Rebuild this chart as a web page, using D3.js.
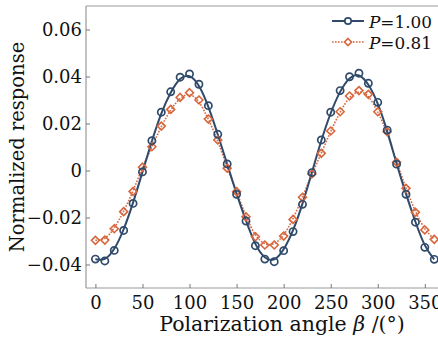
<!DOCTYPE html>
<html>
<head>
    <meta charset="utf-8">
    <style>
        body {
            margin: 0;
            background: #fff;
        }

        svg {
            display: block;
        }

        text {
            font-family: "DejaVu Serif", serif;
        }

        .tick text {
            font-size: 18px;
            fill: #111;
        }

        .tick line {
            stroke: #777;
        }

        .domain {
            display: none;
        }
    </style>
</head>
<body>
    <svg width="438" height="338"></svg>

<script src="https://d3js.org/d3.v7.min.js"></script>
<script>
    // polarization angle (deg) and normalized response
    let angles = [0, 10, 20, 30, 40, 50, 60, 70, 80, 90, 100, 110, 120, 130, 140, 150, 160, 170, 180,
        190, 200, 210, 220, 230, 240, 250, 260, 270, 280, 290, 300, 310, 320, 330, 340, 350, 360]

    let respP100 = [-0.0377, -0.0385, -0.0340, -0.0255, -0.0140, -0.0006, 0.0127, 0.0248, 0.0335, 0.0397,
        0.0411, 0.0367, 0.0276, 0.0154, 0.0028, -0.0101, -0.0215, -0.0320, -0.0377,
        -0.0388, -0.0341, -0.0260, -0.0144, -0.0009, 0.0130, 0.0248, 0.0340, 0.0399,
        0.0414, 0.0371, 0.0290, 0.0172, 0.0027, -0.0101, -0.0220, -0.0327, -0.0378]

    let respP081 = [-0.0297, -0.0296, -0.0248, -0.0175, -0.0089, 0.0014, 0.0101, 0.0189, 0.0260, 0.0311,
        0.0331, 0.0300, 0.0219, 0.0130, 0.0010, -0.0090, -0.0197, -0.0282, -0.0317,
        -0.0317, -0.0279, -0.0208, -0.0114, -0.0015, 0.0073, 0.0168, 0.0250, 0.0317,
        0.0340, 0.0324, 0.0250, 0.0165, 0.0035, -0.0076, -0.0178, -0.0253, -0.0293]

    let seriesNames = ["1.00", "0.81"]
    let seriesColors = ["#2f4a6a", "#d8663c"]

    let xTicks = [0, 50, 100, 150, 200, 250, 300, 350]
    let yTicks = [-0.04, -0.02, 0, 0.02, 0.04, 0.06]

    let svg = d3.select("svg")

    let margin = { top: 6, right: 0, bottom: 50, left: 86 }
    let width = 438
    let height = 338

    let x = d3.scaleLinear()
        .domain([-10, 364])
        .range([margin.left, width - margin.right])

    let y = d3.scaleLinear()
        .domain([-0.05, 0.07])
        .range([height - margin.bottom, margin.top])

    // frame: left, top, bottom (right side falls outside the picture)
    let frame = svg.append("g")
        .attr("stroke", "#999")
        .attr("stroke-width", 1.2)
    frame.append("line")
        .attr("x1", x.range()[0]).attr("x2", x.range()[0])
        .attr("y1", y.range()[0]).attr("y2", y.range()[1])
    frame.append("line")
        .attr("x1", x.range()[0]).attr("x2", x.range()[1])
        .attr("y1", y.range()[1]).attr("y2", y.range()[1])
    frame.append("line")
        .attr("x1", x.range()[0]).attr("x2", x.range()[1])
        .attr("y1", y.range()[0]).attr("y2", y.range()[0])

    let xAxis = svg.append("g")
        .attr("class", "x axis")
        .attr("transform", `translate(0,${y.range()[0]})`)
        .call(d3.axisBottom(x)
            .tickValues(xTicks)
            .tickSize(-4)
            .tickPadding(8)
            .tickFormat(d3.format("d")))
        .attr("font-family", null)

    let yAxis = svg.append("g")
        .attr("class", "y axis")
        .attr("transform", `translate(${x.range()[0]},0)`)
        .call(d3.axisLeft(y)
            .tickValues(yTicks)
            .tickSize(-4)
            .tickPadding(4)
            .tickFormat(d => d === 0 ? "0" : d3.format(".2f")(d).replace("-", "\u2212")))
        .attr("font-family", null)

    let plotArea = svg.append("g")

    let line = d3.line()
        .x(d => x(d[0]))
        .y(d => y(d[1]))
        .curve(d3.curveBasis)

    let d100 = angles.map((a, i) => [a, respP100[i]])
    let d081 = angles.map((a, i) => [a, respP081[i]])

    // P = 0.81 : dotted line, diamonds
    plotArea.append("path")
        .datum(d081)
        .attr("fill", "none")
        .attr("stroke", seriesColors[1])
        .attr("stroke-width", 1.6)
        .attr("stroke-dasharray", "1.6,1.4")
        .attr("d", line)

    // P = 1.00 : solid line, circles
    plotArea.append("path")
        .datum(d100)
        .attr("fill", "none")
        .attr("stroke", seriesColors[0])
        .attr("stroke-width", 2)
        .attr("d", line)

    let diamond = d3.symbol().type(d3.symbolDiamond2).size(40)

    plotArea.append("g")
        .selectAll("path")
        .data(d081)
        .join("path")
        .attr("transform", d => `translate(${x(d[0])},${y(d[1])})`)
        .attr("d", diamond)
        .attr("fill", "none")
        .attr("stroke", seriesColors[1])
        .attr("stroke-width", 1.6)

    plotArea.append("g")
        .selectAll("circle")
        .data(d100)
        .join("circle")
        .attr("cx", d => x(d[0]))
        .attr("cy", d => y(d[1]))
        .attr("r", 3.6)
        .attr("fill", "none")
        .attr("stroke", seriesColors[0])
        .attr("stroke-width", 1.7)

    // legend
    let legend = svg.append("g")
    seriesNames.forEach((name, i) => {
        let ly = 21 + i * 21
        legend.append("line")
            .attr("x1", 332).attr("x2", 364)
            .attr("y1", ly).attr("y2", ly)
            .attr("stroke", seriesColors[i])
            .attr("stroke-width", i === 0 ? 2 : 1.6)
            .attr("stroke-dasharray", i === 0 ? null : "1.6,1.4")
        if (i === 0) {
            legend.append("circle")
                .attr("cx", 348).attr("cy", ly).attr("r", 3.2)
                .attr("fill", "#fff")
                .attr("stroke", seriesColors[i])
                .attr("stroke-width", 1.7)
        } else {
            legend.append("path")
                .attr("transform", `translate(348,${ly})`)
                .attr("d", d3.symbol().type(d3.symbolDiamond2).size(32))
                .attr("fill", "#fff")
                .attr("stroke", seriesColors[i])
                .attr("stroke-width", 1.6)
        }
        let t = legend.append("text")
            .attr("x", 369)
            .attr("y", ly + 7)
            .style("font-size", "17px")
            .attr("textLength", 63)
            .attr("lengthAdjust", "spacingAndGlyphs")
            .style("fill", "#111")
        t.append("tspan").style("font-style", "italic").text("P")
        t.append("tspan").text("=" + name)
    })

    // axis labels
    let xl = svg.append("text")
        .attr("x", 282)
        .attr("y", 331)
        .attr("text-anchor", "middle")
        .style("font-size", "20.5px")
        .style("fill", "#111")
    xl.append("tspan").text("Polarization angle ")
    xl.append("tspan").style("font-style", "italic").text("\u03b2")
    xl.append("tspan").text(" /(\u00b0)")

    svg.append("text")
        .attr("transform", `translate(24,${(y.range()[0] + y.range()[1]) / 2}) rotate(-90)`)
        .attr("text-anchor", "middle")
        .style("font-size", "19.5px")
        .style("fill", "#111")
        .text("Normalized response")
</script>
</body>
</html>
